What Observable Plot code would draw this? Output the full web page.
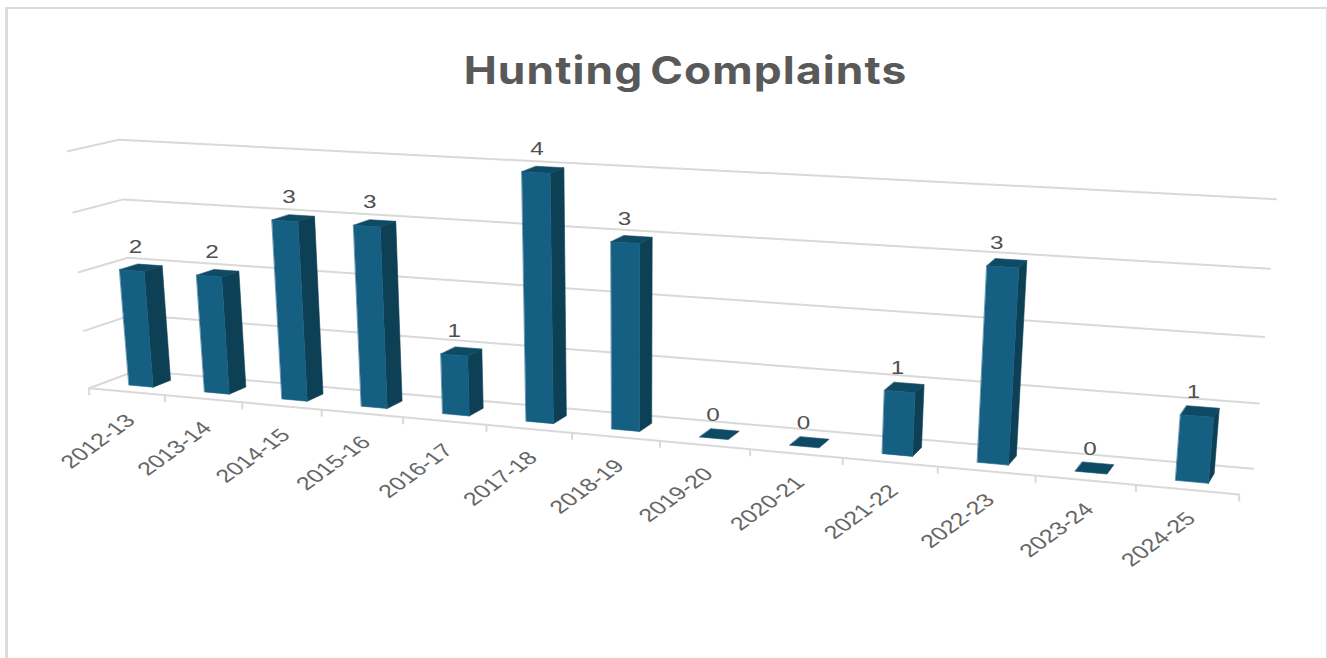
<!DOCTYPE html>
<html>
<head>
<meta charset="utf-8">
<script src="https://cdn.jsdelivr.net/npm/d3@7"></script>
<script src="https://cdn.jsdelivr.net/npm/@observablehq/plot@0.6"></script>
<style>
  html, body { margin: 0; padding: 0; background: #fff; overflow: hidden; }
  #page { position: relative; width: 1327px; height: 658px; overflow: hidden; }
  #frame { position: absolute; left: 5px; top: 7px; right: 0; bottom: -4px; box-sizing: border-box;
           border: solid #dcdcdc; border-width: 2px 1px 0 3px; }
  #title { position: absolute; left: 0; width: 1371px; top: 44px; text-align: center;
           font: 700 38.5px Inter, sans-serif; color: #595959; letter-spacing: 0.95px; word-spacing: -4px; line-height: 52px;
           transform: scaleX(1.15); }
  #chart { position: absolute; left: 0; top: 0; }
  #chart svg { display: block; background: transparent; }
</style>
</head>
<body>
<div id="page">
  <div id="frame"></div>
  <div id="title">Hunting Complaints</div>
  <div id="chart"></div>
</div>
<script>
// ---- data ----
const seasons = ["2012-13","2013-14","2014-15","2015-16","2016-17","2017-18","2018-19","2019-20","2020-21","2021-22","2022-23","2023-24","2024-25"];
const complaints = [2,2,3,3,1,4,3,0,0,1,3,0,1];
const gridLevels = [0,1,2,3,4];

// ---- 3D box: camera model for (category position, depth, value) ----
const maxValue = 4, perspective = 1.184, heightPerspective = 1.045;
const box = {
  floorFront: [[88.7,387.7],[1238.7,494]],
  floorBack:  [[136,370],[1252.7,468.3]],
  topFront:   [[67.3,150.7],[1261.7,218]],
  topBack:    [[118.3,139.3],[1275.3,198.7]]
};
const mix = (a,b,k) => [a[0]+(b[0]-a[0])*k, a[1]+(b[1]-a[1])*k];
function project(t, d, v) {
  const u = t / seasons.length;
  const s = u / (u + perspective * (1 - u));
  const r = v / maxValue;
  const h = r / (r + heightPerspective * (1 - r));
  const edge = e => mix(e[0], e[1], s);
  const floor = mix(edge(box.floorFront), edge(box.floorBack), d);
  const top = mix(edge(box.topFront), edge(box.topBack), d);
  return mix(floor, top, h);
}
const vertex = (t,d,v,id) => { const [x,y] = project(t,d,v); return {x,y,id}; };

// walls and floor grid
const gridLines = gridLevels.flatMap(v => [
  vertex(0,0,v,v), vertex(0,1,v,v), vertex(seasons.length,1,v,v)
]);
const frontEdge = [vertex(0,0,0,"front"), vertex(seasons.length,0,0,"front")];
const ticks = d3.range(seasons.length + 1).map(i => vertex(i,0,0,i));

// bars
const halfWidth = 0.16, dFront = 0.31, dBack = 0.69;
const faces = {front: [], side: [], top: []};
complaints.forEach((v,i) => {
  const l = i + 0.5 - halfWidth, r = i + 0.5 + halfWidth;
  if (v > 0) {
    [[l,dFront,0],[r,dFront,0],[r,dFront,v],[l,dFront,v]].forEach(p => faces.front.push(vertex(...p,i)));
    [[r,dFront,0],[r,dBack,0],[r,dBack,v],[r,dFront,v]].forEach(p => faces.side.push(vertex(...p,i)));
  }
  [[l,dFront,v],[r,dFront,v],[r,dBack,v],[l,dBack,v]].forEach(p => faces.top.push(vertex(...p,i)));
});

// labels
const valueLabels = complaints.map((v,i) => ({
  x: project(i+0.5,dFront,v/2)[0] - 1,
  y: project(i+0.5,dFront,v)[1],
  label: String(v)
}));
const seasonLabels = seasons.map((label,i) => {
  const [x,y] = project(i+0.5,0,0);
  return {x,y,label};
});

const colors = {front:"#156082", side:"#0d3f55", top:"#0f4a65", grid:"#d9d9d9"};

const face = (rows, fill) => Plot.line(rows, {x:"x", y:"y", z:"id", fill, stroke:fill, strokeWidth:0.6, curve:"linear-closed"});

const chart = Plot.plot({
  width: 1327, height: 658,
  marginTop: 0, marginRight: 0, marginBottom: 0, marginLeft: 0,
  x: {type:"linear", domain:[0,1327], range:[0,1327], axis:null},
  y: {type:"linear", domain:[0,658], range:[0,658], axis:null},
  style: {background:"transparent"},
  marks: [
    Plot.line(gridLines, {x:"x", y:"y", z:"id", stroke:colors.grid, strokeWidth:2, curve:"linear"}),
    Plot.line(frontEdge, {x:"x", y:"y", z:"id", stroke:colors.grid, strokeWidth:2}),
    Plot.link(ticks, {x1:"x", x2:"x", y1:"y", y2:d => d.y + 7, stroke:colors.grid, strokeWidth:2}),
    face(faces.side, colors.side),
    face(faces.top, colors.top),
    face(faces.front, colors.front),
    Plot.text(valueLabels, {x:"x", y:"y", text:"label", dy:-23.5, fontSize:18, fontFamily:"Liberation Sans", fill:"#505050", className:"value-label"}),
    Plot.text(seasonLabels, {x:"x", y:"y", text:"label", dx:4, dy:26, rotate:-45, textAnchor:"end", fontSize:18.4, fontFamily:"Liberation Sans", fill:"#666666", className:"season-label"})
  ]
});
// the reference is a horizontally stretched screenshot: widen the text the same way
chart.querySelectorAll(".value-label text").forEach(t => {
  t.setAttribute("transform", t.getAttribute("transform") + " scale(1.35,1)");
});
chart.querySelectorAll(".season-label text").forEach(t => {
  t.setAttribute("transform", t.getAttribute("transform").replace(" rotate", " scale(1.37,1) rotate"));
});
document.getElementById("chart").appendChild(chart);
</script>
</body>
</html>
